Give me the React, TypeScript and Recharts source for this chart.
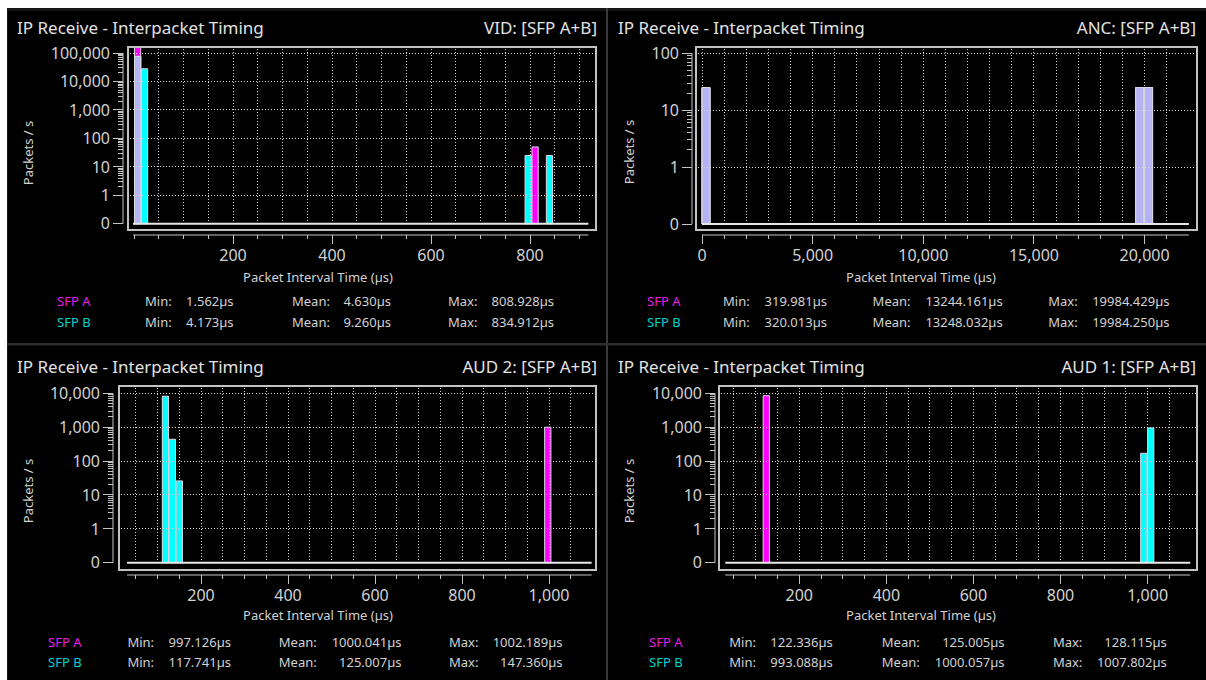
import React from 'react';
import { ComposedChart, Bar, XAxis, YAxis, ReferenceLine } from 'recharts';

const MAGENTA = '#ff00ff';
const CYAN = '#00ffff';
const BOTH = '#b3b3f5';
const EDGE = '#d8d8e0';
const AXIS = '#c4c4c4';
const TEXT = '#d2d2d2';
const FONT = '"Noto Sans", sans-serif';

// VID histogram: bin centre (µs), packets/s for SFP A and SFP B
const vidBins = [8, 22, 797, 811, 840];
const vidA = [216000, 0, 0, 50, 0];
const vidB = [76000, 28000, 25, 0, 25];
const vidYLabels = ['0', '1', '10', '100', '1,000', '10,000', '100,000'];
const vidXLabels = [200, 400, 600, 800];
const vidStatA = ['1.562µs', '4.630µs', '808.928µs'];
const vidStatB = ['4.173µs', '9.260µs', '834.912µs'];

// ANC
const ancBins = [200, 19800, 20200];
const ancA = [25, 25, 25];
const ancB = [25, 25, 25];
const ancYLabels = ['0', '1', '10', '100'];
const ancXLabels = [0, 5000, 10000, 15000, 20000];
const ancStatA = ['319.981µs', '13244.161µs', '19984.429µs'];
const ancStatB = ['320.013µs', '13248.032µs', '19984.250µs'];

// AUD 2
const aud2Bins = [119, 135, 151, 998];
const aud2A = [0, 0, 0, 1000];
const aud2B = [8200, 440, 26, 0];
const audYLabels = ['0', '1', '10', '100', '1,000', '10,000'];
const audXLabels = [200, 400, 600, 800, 1000];
const aud2StatA = ['997.126µs', '1000.041µs', '1002.189µs'];
const aud2StatB = ['117.741µs', '125.007µs', '147.360µs'];

// AUD 1
const aud1Bins = [125, 992, 1008];
const aud1A = [8500, 0, 0];
const aud1B = [0, 170, 950];
const aud1StatA = ['122.336µs', '125.005µs', '128.115µs'];
const aud1StatB = ['993.088µs', '1000.057µs', '1007.802µs'];

// packets/s -> decade level (0 has its own row under "1")
const lvl = (v: number) => (v > 0 ? Math.log10(v) + 1 : null);

function buildRows(bins: number[], a: number[], b: number[]) {
  return bins.map((t, i) => ({
    t,
    a: lvl(a[i]),
    b: lvl(b[i]),
    ab: a[i] > 0 && b[i] > 0 ? lvl(Math.min(a[i], b[i])) : null,
  }));
}

type Geo = {
  left: number; top: number; width: number; height: number;
  L: number; T: number; R: number; B: number;
  x0: number; kx: number; y0: number; ky: number;
  frame: number[];
  span: number[];
  barSize: number;
};

type Spec = {
  name: string;
  rows: { t: number; a: number | null; b: number | null; ab: number | null }[];
  yLabels: string[];
  xLabels: number[];
  xFirst: number; xStep: number; xLast: number;
  statA: string[]; statB: string[];
  g: Geo;
  titleX: number; titleY: number; nameRight: number;
  yTitle: number[]; xTitle: number[];
  statY: number[];
  cols: number[]; // sfp, min, minEnd, mean, meanEnd, max, maxEnd
};

const panels: Spec[] = [
  {
    name: 'VID: [SFP A+B]',
    rows: buildRows(vidBins, vidA, vidB),
    yLabels: vidYLabels, xLabels: vidXLabels, xFirst: 0, xStep: 50, xLast: 900,
    statA: vidStatA, statB: vidStatB,
    g: { left: 8, top: 11, width: 598, height: 290, L: 123, T: 48, R: 597, B: 235,
      x0: 134, kx: 0.495, y0: 223.7, ky: 28.45, frame: [127, 46, 597, 231], span: [-2, 918], barSize: 7 },
    titleX: 17, titleY: 27.5, nameRight: 597,
    yTitle: [28, 153], xTitle: [318, 277], statY: [301, 322],
    cols: [57, 145, 233.6, 292, 391, 448, 554],
  },
  {
    name: 'ANC: [SFP A+B]',
    rows: buildRows(ancBins, ancA, ancB),
    yLabels: ancYLabels, xLabels: ancXLabels, xFirst: 0, xStep: 1000, xLast: 21000,
    statA: ancStatA, statB: ancStatB,
    g: { left: 608, top: 11, width: 598, height: 290, L: 692, T: 48, R: 1197, B: 235,
      x0: 702, kx: 0.02213, y0: 224, ky: 56.9, frame: [695, 46, 1198, 231], span: [0, 22000], barSize: 9 },
    titleX: 618, titleY: 27.5, nameRight: 1196,
    yTitle: [629, 152], xTitle: [921, 277], statY: [301, 322],
    cols: [647, 723, 827, 872.6, 1002.7, 1048.2, 1169.5],
  },
  {
    name: 'AUD 2: [SFP A+B]',
    rows: buildRows(aud2Bins, aud2A, aud2B),
    yLabels: audYLabels, xLabels: audXLabels, xFirst: 50, xStep: 50, xLast: 1050,
    statA: aud2StatA, statB: aud2StatB,
    g: { left: 8, top: 347, width: 598, height: 280, L: 113, T: 387, R: 597, B: 575,
      x0: 114, kx: 0.435, y0: 562.7, ky: 33.88, frame: [118, 385, 597, 571], span: [30, 1098], barSize: 7 },
    titleX: 17, titleY: 366.5, nameRight: 597,
    yTitle: [28, 491], xTitle: [318, 615], statY: [642, 662],
    cols: [48, 127.4, 231, 278.8, 401.5, 449, 562.5],
  },
  {
    name: 'AUD 1: [SFP A+B]',
    rows: buildRows(aud1Bins, aud1A, aud1B),
    yLabels: audYLabels, xLabels: audXLabels, xFirst: 50, xStep: 50, xLast: 1050,
    statA: aud1StatA, statB: aud1StatB,
    g: { left: 608, top: 347, width: 598, height: 280, L: 715, T: 387, R: 1197, B: 575,
      x0: 712.2, kx: 0.4354, y0: 562.7, ky: 33.88, frame: [718, 385, 1198, 571], span: [30, 1098], barSize: 7 },
    titleX: 618, titleY: 366.5, nameRight: 1196,
    yTitle: [629, 491], xTitle: [921, 615], statY: [642, 662],
    cols: [649, 729.3, 832.8, 881.8, 1004.6, 1052.9, 1166.8],
  },
];

function Txt({ x, y, size, color, anchor, children }: any) {
  const tx = anchor === 'end' ? '-100%' : anchor === 'middle' ? '-50%' : '0';
  return (
    <span
      style={{
        position: 'absolute', left: x, top: y, whiteSpace: 'nowrap',
        transform: `translate(${tx}, -50%)`, fontFamily: FONT, fontSize: size,
        lineHeight: `${Math.round(size * 1.2)}px`, color,
      }}
    >
      {children}
    </span>
  );
}

function Panel({ p }: { p: Spec }) {
  const g = p.g;
  const xd = [(g.L - g.x0) / g.kx, (g.R - g.x0) / g.kx];
  const yd = [(g.y0 - g.B) / g.ky, (g.y0 - g.T) / g.ky];
  const toX = (px: number) => (px - g.x0) / g.kx;
  const top = p.yLabels.length - 1;

  const yTicks: number[] = [];
  for (let d = 0; d <= top; d++) {
    yTicks.push(d);
    if (d >= 1 && d < top) for (let k = 2; k <= 9; k++) yTicks.push(d + Math.log10(k));
  }
  const xTicks: number[] = [];
  for (let v = p.xFirst; v <= p.xLast; v += p.xStep) xTicks.push(v);

  const gl = toX(g.frame[0] + 2.5);
  const gr = toX(g.frame[2] - 2.5);
  const dots = {
    stroke: '#d6d6d6', strokeDasharray: '1 2', strokeWidth: 1,
    shapeRendering: 'crispEdges', ifOverflow: 'visible' as const,
  };

  const yTick = (props: any) => {
    const { x, y, payload } = props;
    const v = payload.value;
    const major = Math.abs(v - Math.round(v)) < 1e-6;
    return (
      <g>
        <line x1={x - (major ? 10 : 5)} x2={x} y1={y} y2={y} stroke={AXIS} shapeRendering="crispEdges" />
        {major && (
          <text x={x - 13} y={y} dy="0.36em" textAnchor="end" fill={TEXT} fontSize={16} fontFamily={FONT}>
            {p.yLabels[Math.round(v)]}
          </text>
        )}
      </g>
    );
  };

  const xTick = (props: any) => {
    const { x, y, payload } = props;
    const v = payload.value;
    const lab = p.xLabels.includes(v);
    return (
      <g>
        <line x1={x} x2={x} y1={y} y2={y + (lab ? 9 : 4)} stroke={AXIS} shapeRendering="crispEdges" />
        {lab && (
          <text x={x} y={y + 20} dy="0.36em" textAnchor="middle" fill={TEXT} fontSize={16} fontFamily={FONT}>
            {v.toLocaleString('en-US')}
          </text>
        )}
      </g>
    );
  };

  const c = p.cols;
  const statRow = (label: string, color: string, vals: string[], y: number) => (
    <>
      <Txt x={c[0]} y={y} size={13} color={color}>{label}</Txt>
      <Txt x={c[1]} y={y} size={13} color={TEXT}>Min:</Txt>
      <Txt x={c[2]} y={y} size={13} color={TEXT} anchor="end">{vals[0]}</Txt>
      <Txt x={c[3]} y={y} size={13} color={TEXT}>Mean:</Txt>
      <Txt x={c[4]} y={y} size={13} color={TEXT} anchor="end">{vals[1]}</Txt>
      <Txt x={c[5]} y={y} size={13} color={TEXT}>Max:</Txt>
      <Txt x={c[6]} y={y} size={13} color={TEXT} anchor="end">{vals[2]}</Txt>
    </>
  );

  return (
    <>
      <div style={{ position: 'absolute', left: g.left, top: g.top }}>
        <ComposedChart
          width={g.width}
          height={g.height}
          data={p.rows}
          margin={{ top: g.T - g.top, right: g.left + g.width - g.R, bottom: 0, left: 0 }}
        >
          <XAxis
            type="number" dataKey="t" domain={xd} allowDataOverflow ticks={xTicks} interval={0}
            tickSize={0} tickMargin={0} tickLine={false} axisLine={false}
            height={g.top + g.height - g.B} tick={xTick}
          />
          <XAxis xAxisId="b" hide type="number" dataKey="t" domain={xd} allowDataOverflow />
          <XAxis xAxisId="c" hide type="number" dataKey="t" domain={xd} allowDataOverflow />
          <YAxis
            type="number" domain={yd} allowDataOverflow ticks={yTicks} interval={0}
            tickSize={0} tickMargin={0} tickLine={false} axisLine={false}
            width={g.L - g.left} tick={yTick}
          />
          {p.yLabels.slice(1).map((_, i) => (
            <ReferenceLine key={'h' + i} segment={[{ x: gl, y: i + 1 }, { x: gr, y: i + 1 }]} {...dots} />
          ))}
          {xTicks.map((v) => (
            <ReferenceLine key={'v' + v} segment={[{ x: v, y: 0 }, { x: v, y: yd[1] }]} {...dots} />
          ))}
          <ReferenceLine segment={[{ x: g.span[0], y: 0 }, { x: g.span[1], y: 0 }]} stroke="#e8e8e8" strokeWidth={2} ifOverflow="visible" />
          <ReferenceLine segment={[{ x: g.span[0], y: yd[0] }, { x: g.span[1], y: yd[0] }]} stroke={AXIS} ifOverflow="visible" />
          <ReferenceLine segment={[{ x: xd[0], y: 0 }, { x: xd[0], y: top }]} stroke={AXIS} ifOverflow="visible" />
          <Bar dataKey="a" fill={MAGENTA} stroke={EDGE} barSize={g.barSize} isAnimationActive={false} />
          <Bar dataKey="b" xAxisId="b" fill={CYAN} stroke={EDGE} barSize={g.barSize} isAnimationActive={false} />
          <Bar dataKey="ab" xAxisId="c" fill={BOTH} stroke={EDGE} barSize={g.barSize} isAnimationActive={false} />
        </ComposedChart>
      </div>
      <div
        style={{
          position: 'absolute', left: g.frame[0], top: g.frame[1],
          width: g.frame[2] - g.frame[0], height: g.frame[3] - g.frame[1],
          border: '2px solid #c2c2c2', boxSizing: 'border-box', pointerEvents: 'none',
        }}
      />
      <Txt x={p.titleX} y={p.titleY} size={17} color="#e2e2e2">IP Receive - Interpacket Timing</Txt>
      <Txt x={p.nameRight} y={p.titleY} size={17} color="#e2e2e2" anchor="end">{p.name}</Txt>
      <span
        style={{
          position: 'absolute', left: p.yTitle[0], top: p.yTitle[1], whiteSpace: 'nowrap',
          transform: 'translate(-50%, -50%) rotate(-90deg)', fontFamily: FONT, fontSize: 13,
          lineHeight: '16px', color: TEXT,
        }}
      >
        Packets / s
      </span>
      <Txt x={p.xTitle[0]} y={p.xTitle[1]} size={13} color={TEXT} anchor="middle">Packet Interval Time (µs)</Txt>
      {statRow('SFP A', '#e81ee8', p.statA, p.statY[0])}
      {statRow('SFP B', '#00d0d0', p.statB, p.statY[1])}
    </>
  );
}

export default function App() {
  return (
    <div style={{ position: 'fixed', left: 0, top: 0, width: 1206, height: 680, background: '#fff', overflow: 'hidden' }}>
      <div style={{ position: 'absolute', left: 7, top: 8, width: 1199, height: 672, background: '#161616' }} />
      <div style={{ position: 'absolute', left: 8, top: 11, width: 598, height: 332, background: '#000' }} />
      <div style={{ position: 'absolute', left: 608, top: 11, width: 598, height: 332, background: '#000' }} />
      <div style={{ position: 'absolute', left: 8, top: 346, width: 598, height: 334, background: '#000' }} />
      <div style={{ position: 'absolute', left: 608, top: 346, width: 598, height: 334, background: '#000' }} />
      <div style={{ position: 'absolute', left: 606, top: 8, width: 2, height: 672, background: '#3a3a3a' }} />
      <div style={{ position: 'absolute', left: 7, top: 343, width: 1199, height: 2, background: '#2e2e2e' }} />
      {panels.map((p) => (
        <Panel key={p.name} p={p} />
      ))}
    </div>
  );
}
